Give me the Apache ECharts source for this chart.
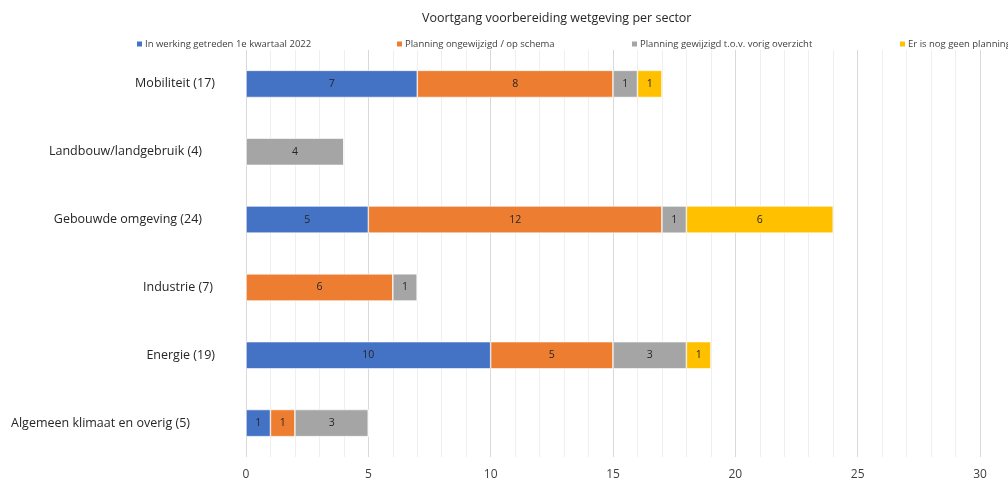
<!DOCTYPE html>
<html>
<head>
<meta charset="utf-8">
<script src="https://cdn.jsdelivr.net/npm/echarts@6/dist/echarts.min.js"></script>
<style>
  html, body { margin: 0; padding: 0; background: #fff; }
  #chart { width: 1008px; height: 481px; }
</style>
</head>
<body>
<div id="chart"></div>
<script>
// categories top to bottom
const sectors = [
  'Mobiliteit (17)',
  'Landbouw/landgebruik (4)',
  'Gebouwde omgeving (24)',
  'Industrie (7)',
  'Energie (19)',
  'Algemeen klimaat en overig (5)'
]
const seriesNames = [
  'In werking getreden 1e kwartaal 2022',
  'Planning ongewijzigd / op schema',
  'Planning gewijzigd t.o.v. vorig overzicht',
  'Er is nog geen planning'
]
const inWerking = [7, 0, 5, 0, 10, 1]
const ongewijzigd = [8, 0, 12, 6, 5, 1]
const gewijzigd = [1, 4, 1, 1, 3, 3]
const geenPlanning = [1, 0, 6, 0, 1, 0]
const colors = ['#4472C4', '#ED7D31', '#A5A5A5', '#FFC000']

// label end offsets, like in the original picture
const labelPad = [0, 13, 13, 2, 0, 25]

const font = 'Open Sans'
const chart = echarts.init(document.getElementById('chart'))

const allData = [inWerking, ongewijzigd, gewijzigd, geenPlanning]
const series = allData.map((d, i) => ({
  name: seriesNames[i],
  type: 'bar',
  stack: 'total',
  barWidth: '40%',
  data: d,
  itemStyle: { color: colors[i], borderColor: '#fff', borderWidth: 0.6 },
  label: {
    show: true,
    position: 'inside',
    color: '#262626',
    fontFamily: font,
    fontSize: 10.5,
    formatter: (p) => (p.value ? p.value : '')
  }
}))

const legendLefts = [130, 390, 625, 893]
const legends = seriesNames.map((n, i) => ({
  data: [n],
  left: legendLefts[i],
  top: 34,
  itemWidth: 7,
  itemHeight: 7,
  itemGap: 2,
  icon: 'rect',
  textStyle: { fontFamily: font, fontSize: 9.5, color: '#404040', padding: [0, 0, 0, -3] }
}))

const rich = {}
labelPad.forEach((p, i) => {
  rich['c' + i] = { fontFamily: font, fontSize: 12.5, color: '#262626', padding: [0, p, 0, 0] }
})

chart.setOption({
  animation: false,
  title: {
    text: 'Voortgang voorbereiding wetgeving per sector',
    left: 417,
    top: 7,
    textStyle: { fontFamily: font, fontSize: 12.5, fontWeight: 'normal', color: '#262626' }
  },
  legend: legends,
  grid: { left: 246, right: 28, top: 50, bottom: 23, containLabel: false },
  xAxis: {
    type: 'value',
    min: 0,
    max: 30,
    interval: 5,
    axisLine: { show: false },
    axisTick: { show: false },
    axisLabel: { fontFamily: font, fontSize: 12, color: '#404040', margin: 12 },
    splitLine: { lineStyle: { color: '#d9d9d9', width: 1 } },
    minorTick: { show: false, splitNumber: 5 },
    minorSplitLine: { show: true, lineStyle: { color: '#efefef', width: 1 } }
  },
  yAxis: {
    type: 'category',
    inverse: true,
    data: sectors,
    axisLine: { show: false },
    axisTick: { show: false },
    axisLabel: {
      margin: 31,
      formatter: (v, i) => '{c' + i + '|' + v + '}',
      rich: rich
    }
  },
  series: series
})
</script>
</body>
</html>
